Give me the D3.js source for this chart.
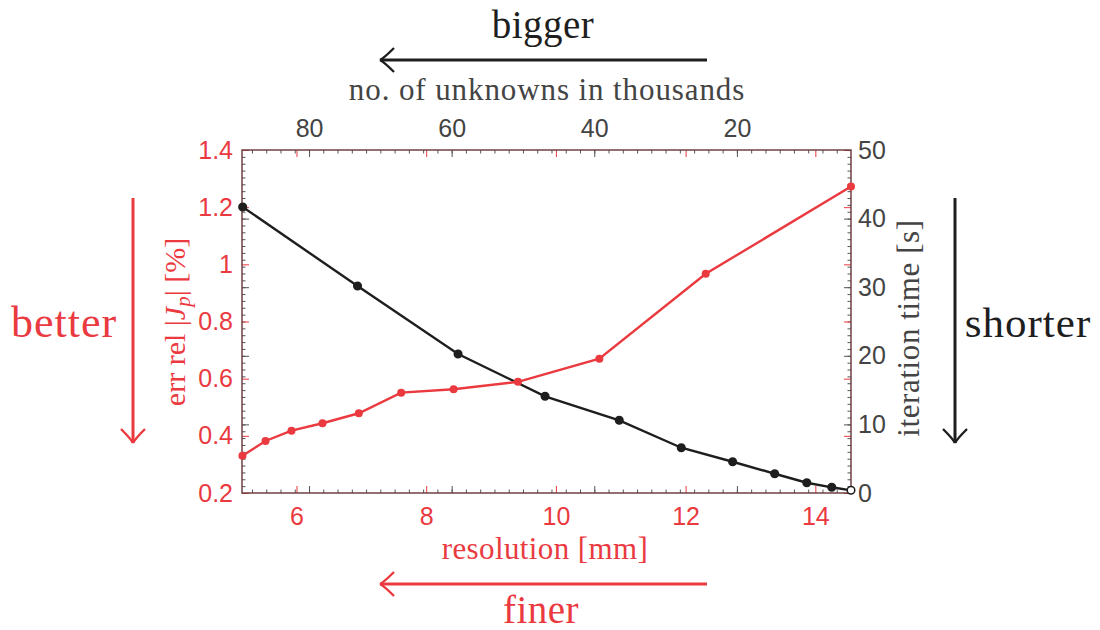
<!DOCTYPE html>
<html>
<head>
<meta charset="utf-8">
<script src="https://cdn.jsdelivr.net/npm/d3@7"></script>
<style>
  html, body { margin: 0; padding: 0; background: #fff; }
  svg { display: block; }
</style>
</head>
<body>
<svg id="chart" width="1100" height="630"></svg>
<script>
// ---------------- data ----------------
// red series: relative error vs resolution [mm]
const resolution = [5.167, 5.522, 5.923, 6.401, 6.961, 7.614, 8.423, 9.415, 10.67, 12.31, 14.55];
const errRel     = [0.330, 0.382, 0.418, 0.444, 0.479, 0.551, 0.563, 0.589, 0.670, 0.967, 1.272];
// black series: iteration time vs number of unknowns (thousands)
const unknowns   = [89.3, 73.2, 59.1, 46.9, 36.5, 27.8, 20.6, 14.7, 10.2, 6.7, 4.0];
const iterTime   = [41.69, 30.17, 20.26, 14.10, 10.60, 6.60, 4.56, 2.81, 1.50, 0.83, 0.39];

// axis domains and tick values
const resDomain     = [5.16, 14.55];
const unkDomain     = [89.4, 4.0];
const errDomain     = [0.2, 1.4];
const timeDomain    = [0, 50];
const resTicks      = [6, 8, 10, 12, 14];
const unkTicks      = [20, 40, 60, 80];
const errTicks      = [0.2, 0.4, 0.6, 0.8, 1, 1.2, 1.4];
const timeTicks     = [0, 10, 20, 30, 40, 50];

// texts
const xLabel = "resolution [mm]";
const x2Label = "no. of unknowns in thousands";
const y2Label = "iteration time [s]";
const annBetter = "better", annShorter = "shorter", annBigger = "bigger", annFiner = "finer";

// ---------------- styles ----------------
const RED = "#ea3a3f";
const DARK = "#1e1e1e";
const GREY = "#444444";
const SANS = "'Liberation Sans', Arial, Helvetica, sans-serif";
const SERIF = "'Liberation Serif', 'Times New Roman', serif";
const TICKFS = 25;

const svg = d3.select("#chart");
const L = 242, R = 851, T = 150, B = 493;

const x  = d3.scaleLinear().domain(resDomain).range([L, R]);
const x2 = d3.scaleLinear().domain(unkDomain).range([L, R]);
const y  = d3.scaleLinear().domain(errDomain).range([B, T]);
const y2 = d3.scaleLinear().domain(timeDomain).range([B, T]);

const unkMinor  = d3.range(6, 90, 2);
const timeMinor = d3.range(0, 51, 1);

function styleTicks(g, color, width) {
  g.select(".domain").remove();
  g.selectAll(".tick line").attr("stroke", color).attr("stroke-width", width || 1);
}

// --- inner ticks (both sides, like a boxed axes) ---
[[d3.axisTop, T], [d3.axisBottom, B]].forEach(([ax, pos]) => {
  svg.append("g").attr("transform", `translate(0,${pos})`)
    .call(ax(x2).tickValues(unkMinor).tickSize(-3.5).tickFormat(""))
    .call(g => styleTicks(g, "#555"));
  svg.append("g").attr("transform", `translate(0,${pos})`)
    .call(ax(x2).tickValues(unkTicks).tickSize(-7).tickFormat(""))
    .call(g => styleTicks(g, "#555"));
  svg.append("g").attr("transform", `translate(0,${pos})`)
    .call(ax(x).tickValues(resTicks).tickSize(-7).tickFormat(""))
    .call(g => styleTicks(g, RED));
});
[[d3.axisLeft, L], [d3.axisRight, R]].forEach(([ax, pos]) => {
  svg.append("g").attr("transform", `translate(${pos},0)`)
    .call(ax(y2).tickValues(timeMinor).tickSize(-3.5).tickFormat(""))
    .call(g => styleTicks(g, "#555"));
  svg.append("g").attr("transform", `translate(${pos},0)`)
    .call(ax(y2).tickValues(timeTicks).tickSize(-7).tickFormat(""))
    .call(g => styleTicks(g, "#555"));
  svg.append("g").attr("transform", `translate(${pos},0)`)
    .call(ax(y).tickValues(errTicks).tickSize(-7).tickFormat(""))
    .call(g => styleTicks(g, RED));
});

// frame
svg.append("rect").attr("x", L).attr("y", T).attr("width", R - L).attr("height", B - T)
  .attr("fill", "none").attr("stroke", "#3a3a3a").attr("stroke-width", 1.3);
svg.append("rect").attr("x", L).attr("y", T).attr("width", R - L).attr("height", B - T)
  .attr("fill", "none").attr("stroke", RED).attr("stroke-opacity", 0.3).attr("stroke-width", 1.3);

// --- tick labels ---
const fmt = d => String(+d.toFixed(1));
function labelStyle(g, color) {
  g.select(".domain").remove();
  g.selectAll("text").attr("fill", color).attr("font-family", SANS).attr("font-size", TICKFS);
}
svg.append("g").attr("transform", `translate(0,${B})`)
  .call(d3.axisBottom(x).tickValues(resTicks).tickSize(0).tickPadding(14).tickFormat(fmt))
  .call(g => labelStyle(g, RED));
svg.append("g").attr("transform", `translate(0,${T})`)
  .call(d3.axisTop(x2).tickValues(unkTicks).tickSize(0).tickPadding(13).tickFormat(fmt))
  .call(g => labelStyle(g, GREY));
svg.append("g").attr("transform", `translate(${L},0)`)
  .call(d3.axisLeft(y).tickValues(errTicks).tickSize(0).tickPadding(9).tickFormat(fmt))
  .call(g => labelStyle(g, RED));
svg.append("g").attr("transform", `translate(${R},0)`)
  .call(d3.axisRight(y2).tickValues(timeTicks).tickSize(0).tickPadding(7).tickFormat(fmt))
  .call(g => labelStyle(g, GREY));

// --- series ---
const redPts = resolution.map((r, i) => [r, errRel[i]]);
const blkPts = unknowns.map((u, i) => [u, iterTime[i]]);

svg.append("path").datum(blkPts)
  .attr("d", d3.line().x(d => x2(d[0])).y(d => y2(d[1])))
  .attr("fill", "none").attr("stroke", DARK).attr("stroke-width", 2.4);
svg.append("g").selectAll("circle").data(blkPts).join("circle")
  .attr("cx", d => x2(d[0])).attr("cy", d => y2(d[1])).attr("r", 3.8)
  .attr("fill", (d, i) => i === blkPts.length - 1 ? "#fff" : DARK)
  .attr("stroke", DARK).attr("stroke-width", 1.5);

svg.append("path").datum(redPts)
  .attr("d", d3.line().x(d => x(d[0])).y(d => y(d[1])))
  .attr("fill", "none").attr("stroke", RED).attr("stroke-width", 2.4);
svg.append("g").selectAll("circle").data(redPts).join("circle")
  .attr("cx", d => x(d[0])).attr("cy", d => y(d[1])).attr("r", 4)
  .attr("fill", RED);

// --- axis labels ---
const LBLFS = 31;
svg.append("text").attr("x", 545).attr("y", 559)
  .attr("text-anchor", "middle").attr("fill", RED).attr("letter-spacing", 0.4)
  .attr("font-family", SERIF).attr("font-size", LBLFS).text(xLabel);
svg.append("text").attr("x", 547).attr("y", 100)
  .attr("text-anchor", "middle").attr("fill", GREY).attr("letter-spacing", 0.9)
  .attr("font-family", SERIF).attr("font-size", LBLFS).text(x2Label);

// left y label with math J_p
const yl = svg.append("text").attr("transform", "translate(185,322) rotate(-90)")
  .attr("text-anchor", "middle").attr("fill", RED)
  .attr("font-family", SERIF).attr("font-size", 30);
yl.append("tspan").text("err rel |");
yl.append("tspan").attr("font-style", "italic").text("J");
yl.append("tspan").attr("font-style", "italic").attr("font-size", 21).attr("dy", 5).text("p");
yl.append("tspan").attr("dy", -5).text("| [%]");

svg.append("text").attr("transform", "translate(919,328) rotate(-90)")
  .attr("text-anchor", "middle").attr("fill", GREY).attr("letter-spacing", 0.6)
  .attr("font-family", SERIF).attr("font-size", LBLFS).text(y2Label);

// --- annotations ---
function arrow(x1, y1, x2a, y2a, color) {
  const g = svg.append("g").attr("stroke", color).attr("fill", "none")
    .attr("stroke-width", 3);
  g.append("line").attr("x1", x1).attr("y1", y1).attr("x2", x2a).attr("y2", y2a);
  const ang = Math.atan2(y2a - y1, x2a - x1);
  const back = 14, side = 12;
  const ux = Math.cos(ang), uy = Math.sin(ang);
  const px = -uy, py = ux;
  const bx = x2a - ux * back, by = y2a - uy * back;
  const c1x = x2a - ux * 4, c1y = y2a - uy * 4;
  g.append("path").attr("stroke-width", 2.4)
    .attr("d", `M${bx + px * side},${by + py * side} Q${c1x + px * 2},${c1y + py * 2} ${x2a},${y2a}` +
               ` M${bx - px * side},${by - py * side} Q${c1x - px * 2},${c1y - py * 2} ${x2a},${y2a}`);
}
arrow(133, 198, 133, 443, RED);
arrow(955, 198, 955, 443, DARK);
arrow(707, 60, 380, 60, DARK);
arrow(707, 584, 380, 584, RED);

svg.append("text").attr("x", 64).attr("y", 337).attr("text-anchor", "middle").attr("letter-spacing", 1)
  .attr("fill", RED).attr("font-family", SERIF).attr("font-size", 44).text(annBetter);
svg.append("text").attr("x", 1028).attr("y", 337).attr("text-anchor", "middle").attr("letter-spacing", 1)
  .attr("fill", DARK).attr("font-family", SERIF).attr("font-size", 43).text(annShorter);
svg.append("text").attr("x", 543).attr("y", 38).attr("text-anchor", "middle").attr("letter-spacing", 0.5)
  .attr("fill", DARK).attr("font-family", SERIF).attr("font-size", 39).text(annBigger);
svg.append("text").attr("x", 541).attr("y", 623).attr("text-anchor", "middle").attr("letter-spacing", 0.5)
  .attr("fill", RED).attr("font-family", SERIF).attr("font-size", 39).text(annFiner);
</script>
</body>
</html>
